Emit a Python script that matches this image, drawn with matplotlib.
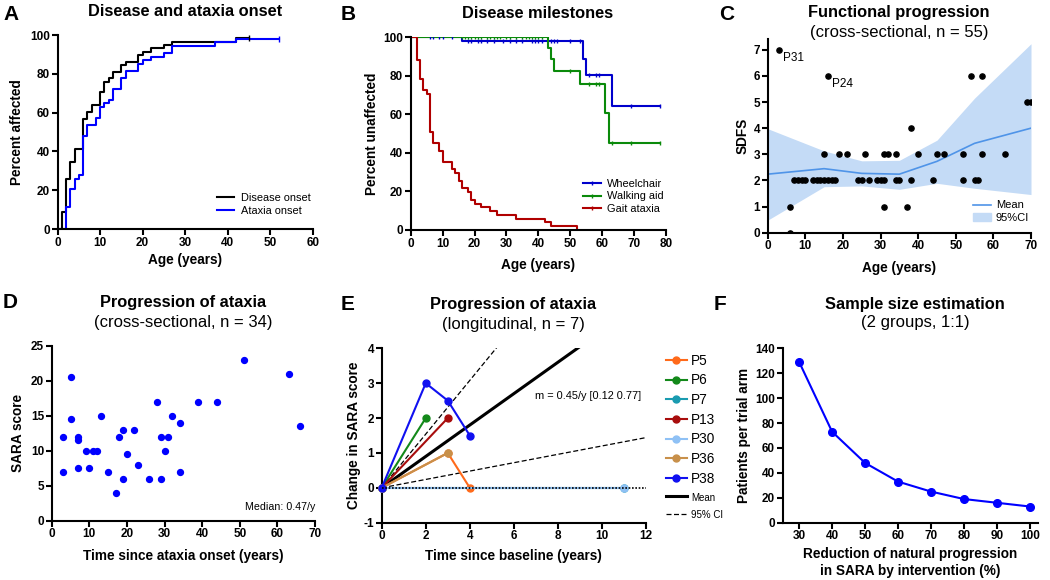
import numpy as np
import matplotlib
matplotlib.use('Agg')
import matplotlib.pyplot as plt
from matplotlib.lines import Line2D
from matplotlib.patches import Patch

plt.rcParams['font.family'] = ['Liberation Sans', 'DejaVu Sans']
plt.rcParams['axes.unicode_minus'] = False

# ---- A: disease and ataxia onset (cumulative, %) ----
a_dis_age = [0, 1, 2, 3, 4, 6, 7, 8, 10, 11, 12, 13, 15, 16, 19, 20, 22, 25, 27, 42, 45]
a_dis_pct = [0, 8.6, 25.9, 34.5, 41.4, 56.9, 60.3, 63.8, 70.7, 75.9, 77.6, 81.0, 84.5,
             86.2, 89.7, 91.4, 93.1, 94.8, 96.6, 98.3, 98.3]
a_atx_age = [0, 2, 3, 4, 5, 6, 7, 9, 10, 11, 12, 13, 15, 16, 19, 20, 22, 25, 27, 37, 42, 52]
a_atx_pct = [0, 11.1, 20.4, 25.9, 27.8, 48.1, 53.7, 57.4, 63.0, 64.8, 66.7, 72.2, 77.8,
             81.5, 85.2, 87.0, 88.9, 90.7, 94.4, 96.3, 98.1, 98.1]

# ---- B: disease milestones (percent unaffected) ----
b_wc_age = [0, 16, 54, 55, 63, 78]
b_wc_pct = [100, 97.9, 88.8, 80.3, 64.2, 64.2]
b_wa_age = [0, 43, 44, 45, 53, 61, 62, 78]
b_wa_pct = [100, 94.3, 88.6, 82.4, 75.6, 60.5, 45.4, 45.4]
b_ga_age = [0, 2, 3, 4, 5, 6, 7, 9, 10, 13, 14, 15, 16, 18, 19, 20, 22, 25, 27, 33, 42, 44, 52]
b_ga_pct = [100, 88.2, 78.4, 72.5, 70.6, 51.0, 45.1, 41.2, 35.3, 31.4, 29.4, 25.5, 21.6,
            19.6, 15.7, 13.7, 11.8, 9.8, 7.8, 5.9, 3.9, 2.0, 0]
# censored observations
b_wc_cens = [6, 7, 9, 10, 13, 18, 19, 21, 22, 24, 26, 29, 31, 33, 35, 38, 39, 40, 41,
             44, 45, 46, 50, 53, 56, 58, 59, 69, 78]
b_wa_cens = [16, 17, 18, 19, 20, 21, 22, 24, 25, 26, 27, 28, 30, 31, 33, 35, 36, 37, 38,
             39, 40, 41, 50, 56, 58, 59, 63, 69, 78]

# ---- C: SDFS vs age ----
c_age = [3, 16, 6, 6,
         7, 8, 9, 10, 12, 13, 14, 15, 16, 17, 18, 24, 25, 27, 29, 30, 31, 34, 35, 38, 44, 52, 55, 56,
         15, 19, 21, 26, 31, 32, 34, 40, 45, 47, 52, 57, 63,
         31, 37, 38, 54, 57, 69, 70]
c_sdfs = [7, 6, 1, 0,
          2, 2, 2, 2, 2, 2, 2, 2, 2, 2, 2, 2, 2, 2, 2, 2, 2, 2, 2, 2, 2, 2, 2, 2,
          3, 3, 3, 3, 3, 3, 3, 3, 3, 3, 3, 3, 3,
          1, 1, 4, 6, 6, 5, 5]
c_knots = [0, 15, 25, 35, 45, 55, 70]
c_mean = [2.24, 2.45, 2.27, 2.24, 2.73, 3.42, 4.0]
c_upper = [3.98, 3.13, 2.75, 2.77, 3.54, 5.15, 7.23]
c_lower = [0.48, 1.76, 1.79, 1.66, 1.89, 1.70, 1.46]

# ---- D: SARA vs time since ataxia onset ----
d_time = [3, 3, 5, 5, 7, 7, 7, 9, 10, 11, 12, 13, 15, 17, 18, 19, 19, 20, 22, 23, 26,
          28, 29, 29, 30, 31, 32, 34, 34, 39, 44, 51, 63, 66]
d_sara = [12, 7, 20.5, 14.5, 12, 11.5, 7.5, 10, 7.5, 10, 10, 15, 7, 4, 12, 13, 6, 9.5, 13, 8, 6,
          17, 12, 6, 10, 12, 15, 14, 7, 17, 17, 23, 21, 13.5]

# ---- E: longitudinal change in SARA ----
e_names = ['P5', 'P6', 'P7', 'P13', 'P30', 'P36', 'P38']
e_time = [[0, 3, 4], [0, 2], [0, 11], [0, 3], [0, 11], [0, 3], [0, 2, 3, 4]]
e_change = [[0, 1, 0], [0, 2], [0, 0], [0, 2], [0, 0], [0, 1], [0, 3, 2.5, 1.5]]
e_colors = ['#ff6a1a', '#13891a', '#1a9bb0', '#a80d0d', '#8fc1f5', '#c8904a', '#1010f0']
e_slope = 0.45
e_ci = [0.12, 0.77]

# ---- F: sample size ----
f_reduction = [30, 40, 50, 60, 70, 80, 90, 100]
f_patients = [129, 73, 48, 33, 25, 19, 16, 13]

W, H = 1050, 580


def box(left, top, right, bottom):
    return [left / W, 1 - bottom / H, (right - left) / W, (bottom - top) / H]


def style(ax):
    for s in ['top', 'right']:
        ax.spines[s].set_visible(False)
    for s in ['left', 'bottom']:
        ax.spines[s].set_linewidth(1.5)
    ax.tick_params(width=1.5, length=4, labelsize=8.5, pad=1.5)
    for lab in ax.get_xticklabels() + ax.get_yticklabels():
        lab.set_fontweight('bold')


def at_time(times, ages, pct):
    # value of a step curve at the given times
    return [pct[np.searchsorted(ages, t, side='right') - 1] for t in times]


def ftext(x, y, s, **kw):
    fig.text(x / W, 1 - y / H, s, **kw)


fig = plt.figure(figsize=(10.5, 5.8), dpi=100)
lab_kw = dict(fontsize=9.8, fontweight='bold')
leg_kw = dict(frameon=False, fontsize=7.9, handlelength=1.6, handletextpad=0.6)

# A
ax = fig.add_axes(box(57.5, 35, 313, 229))
ax.step(a_dis_age, a_dis_pct, where='post', color='black', lw=1.5, label='Disease onset')
ax.step(a_atx_age, a_atx_pct, where='post', color='#0000ff', lw=1.5, label='Ataxia onset')
ax.plot([45], [98.3], marker='|', color='black', ms=4, mew=1)
ax.plot([52], [98.1], marker='|', color='#0000ff', ms=4, mew=1)
ax.set_xlim(0, 60)
ax.set_ylim(0, 100)
ax.set_xticks(range(0, 61, 10))
ax.set_yticks(range(0, 101, 20))
ax.set_xlabel('Age (years)', labelpad=3, **lab_kw)
ax.set_ylabel('Percent affected', labelpad=4, **lab_kw)
style(ax)
ax.legend(loc='lower right', bbox_to_anchor=(1.03, 0.015), labelspacing=0.3, **leg_kw)

# B
ax = fig.add_axes(box(410.7, 37.3, 666, 230))
ax.step(b_wc_age, b_wc_pct, where='post', color='#0000cc', lw=1.5)
ax.step(b_wa_age, b_wa_pct, where='post', color='#0a8a0a', lw=1.5)
ax.step(b_ga_age, b_ga_pct, where='post', color='#b00000', lw=1.5)
ax.plot(b_wc_cens, at_time(b_wc_cens, b_wc_age, b_wc_pct),
        ls='none', marker='|', color='#0000cc', ms=3, mew=1)
ax.plot(b_wa_cens, at_time(b_wa_cens, b_wa_age, b_wa_pct),
        ls='none', marker='|', color='#0a8a0a', ms=3, mew=1)
ax.set_xlim(0, 80)
ax.set_ylim(0, 100)
ax.set_xticks(range(0, 81, 10))
ax.set_yticks(range(0, 101, 20))
ax.set_xlabel('Age (years)', labelpad=6, **lab_kw)
ax.set_ylabel('Percent unaffected', labelpad=3, **lab_kw)
style(ax)
hb = [Line2D([], [], color='#0000cc', lw=1.5, marker='|', ms=3),
      Line2D([], [], color='#0a8a0a', lw=1.5, marker='|', ms=3),
      Line2D([], [], color='#b00000', lw=1.5, marker='|', ms=3)]
ax.legend(hb, ['Wheelchair', 'Walking aid', 'Gait ataxia'], loc='lower right',
          bbox_to_anchor=(1.03, 0.034), labelspacing=0.2, **leg_kw)

# C
ax = fig.add_axes(box(767.7, 39.3, 1031, 232.7))
ax.fill_between(c_knots, c_lower, c_upper, color='#c4dbf6', lw=0)
ax.plot(c_knots, c_mean, color='#4f94e8', lw=1.2)
ax.scatter(c_age, c_sdfs, s=14, color='black', zorder=3)
ax.text(4.2, 6.7, 'P31', fontsize=8.5, va='center')
ax.text(17.2, 5.7, 'P24', fontsize=8.5, va='center')
ax.set_xlim(0, 70)
ax.set_ylim(0, 7.4)
ax.set_xticks(range(0, 71, 10))
ax.set_yticks(range(0, 8))
ax.set_xlabel('Age (years)', labelpad=6, **lab_kw)
ax.set_ylabel('SDFS', labelpad=3, **lab_kw)
style(ax)
hc = [Line2D([], [], color='#4f94e8', lw=1.2), Patch(color='#c4dbf6')]
ax.legend(hc, ['Mean', '95%CI'], loc='lower right', bbox_to_anchor=(1.03, 0.0),
          frameon=False, fontsize=8, handlelength=1.6, handletextpad=0.4, labelspacing=0.2)

# D
ax = fig.add_axes(box(51.7, 346, 315, 520.7))
ax.scatter(d_time, d_sara, s=18, color='#0000ff', zorder=3)
ax.text(1.0, 0.077, 'Median: 0.47/y', transform=ax.transAxes, ha='right', va='center',
        fontsize=7.7)
ax.set_xlim(0, 70)
ax.set_ylim(0, 25)
ax.set_xticks(range(0, 71, 10))
ax.set_yticks(range(0, 26, 5))
ax.set_xlabel('Time since ataxia onset (years)', labelpad=6, **lab_kw)
ax.set_ylabel('SARA score', labelpad=4, **lab_kw)
style(ax)

# E
ax = fig.add_axes(box(381.7, 348.3, 646, 522.7))
handles = []
for name, t, c, col in zip(e_names, e_time, e_change, e_colors):
    h, = ax.plot(t, c, color=col, lw=1.5, marker='o', ms=5, clip_on=False, zorder=3)
    handles.append(h)
xx = np.array([0, 12])
hm, = ax.plot(xx, e_slope * xx, color='black', lw=2.2, zorder=2)
hci, = ax.plot(xx, e_ci[1] * xx, color='black', lw=0.9, ls=(0, (4, 2)), zorder=2)
ax.plot(xx, e_ci[0] * xx, color='black', lw=0.9, ls=(0, (4, 2)), zorder=2)
ax.plot(xx, [0, 0], color='black', lw=1.2, ls=(0, (1, 1)), zorder=4)
ax.text(11.8, 2.62, 'm = 0.45/y [0.12 0.77]', ha='right', va='center', fontsize=7.9)
ax.set_xlim(0, 12)
ax.set_ylim(-1, 4)
ax.set_xticks(range(0, 13, 2))
ax.set_yticks(range(-1, 5))
ax.set_xlabel('Time since baseline (years)', labelpad=5, **lab_kw)
ax.set_ylabel('Change in SARA score', labelpad=2, **lab_kw)
style(ax)
leg = ax.legend(handles + [hm, hci], e_names + ['Mean', '95% CI'], loc='upper left',
                bbox_to_anchor=(1.03, 1.04), frameon=False, fontsize=9.8, handlelength=1.5,
                handletextpad=0.35, labelspacing=0.42)
for txt in leg.get_texts()[-2:]:
    txt.set_fontsize(7.0)

# F
ax = fig.add_axes(box(782.7, 348.3, 1038, 522.7))
ax.plot(f_reduction, f_patients, color='#0000ff', lw=1.5, marker='o', ms=5.5)
ax.set_xlim(25, 102.5)
ax.set_ylim(0, 140)
ax.set_xticks(range(30, 101, 10))
ax.set_yticks(range(0, 141, 20))
ax.set_xlabel('Reduction of natural progression\nin SARA by intervention (%)',
              labelpad=3, linespacing=1.3, **lab_kw)
ax.set_ylabel('Patients per trial arm', labelpad=3, **lab_kw)
style(ax)

# titles and panel letters
t_kw = dict(fontsize=11.8, fontweight='bold', ha='center', va='center')
s_kw = dict(fontsize=12, ha='center', va='center')
ftext(185, 12, 'Disease and ataxia onset', **t_kw)
ftext(538, 13, 'Disease milestones', **t_kw)
ftext(899, 12, 'Functional progression', **t_kw)
ftext(899, 32, '(cross-sectional, n = 55)', **s_kw)
ftext(183, 302, 'Progression of ataxia', **t_kw)
ftext(183, 322, '(cross-sectional, n = 34)', **s_kw)
ftext(513, 305, 'Progression of ataxia', **t_kw)
ftext(513, 324, '(longitudinal, n = 7)', **s_kw)
ftext(915, 304, 'Sample size estimation', **t_kw)
ftext(915, 323, '(2 groups, 1:1)', **s_kw)

l_kw = dict(fontsize=15, fontweight='bold', ha='left', va='center')
ftext(3, 14, 'A', **l_kw)
ftext(341, 14, 'B', **l_kw)
ftext(719, 14, 'C', **l_kw)
ftext(3, 303, 'D', **l_kw)
ftext(341, 305, 'E', **l_kw)
ftext(714, 305, 'F', **l_kw)

fig.savefig('out.png', dpi=100)
